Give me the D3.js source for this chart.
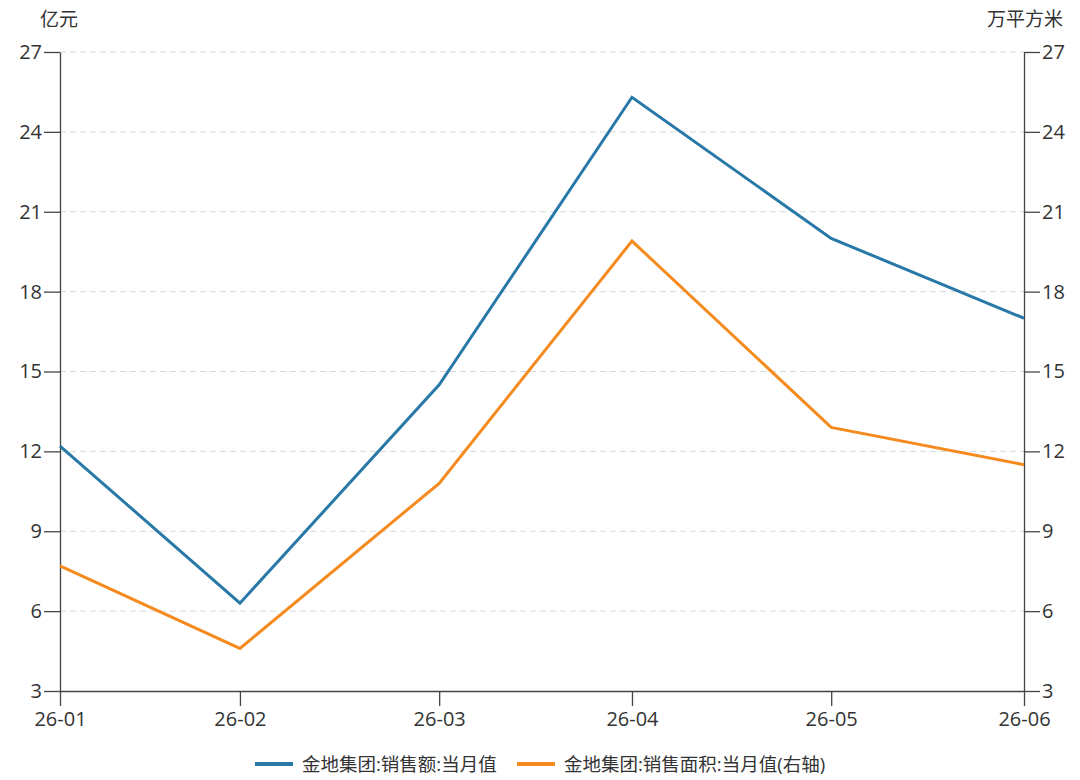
<!DOCTYPE html>
<html>
<head>
<meta charset="utf-8">
<script src="https://cdn.jsdelivr.net/npm/d3@7"></script>
<style>
  body { margin: 0; background: #fff; }
  svg text { font-family: "Open Sans", "Noto Sans CJK SC", sans-serif; fill: #333; }
  .axis path, .axis line { stroke: #444; stroke-width: 1.3; }
  .grid line { stroke: #d9d9d9; stroke-dasharray: 6,4; }
</style>
</head>
<body>
<div id="chart"></div>
<script>
// month-end dates
var months = ["2026-01-31", "2026-02-28", "2026-03-31", "2026-04-30", "2026-05-31", "2026-06-30"];
var salesAmount = [12.2, 6.3, 14.5, 25.3, 20.0, 17.0];   // 亿元
var salesArea = [7.7, 4.6, 10.8, 19.9, 12.9, 11.5];      // 万平方米
var yTicks = [3, 6, 9, 12, 15, 18, 21, 24, 27];
var seriesNames = ["金地集团:销售额:当月值", "金地集团:销售面积:当月值(右轴)"];
var colors = ["#2878a8", "#f58b1f"];

var margin = {top: 52, right: 56, bottom: 89, left: 60},
    width = 1080 - margin.left - margin.right,
    height = 780 - margin.top - margin.bottom;

var parseDate = d3.timeParse("%Y-%m-%d");
var dates = months.map(parseDate);

var x = d3.scaleTime().domain(d3.extent(dates)).range([0, width]);
var yL = d3.scaleLinear().domain([3, 27]).range([height, 0]);
var yR = d3.scaleLinear().domain([3, 27]).range([height, 0]);

var svg = d3.select("#chart").append("svg")
    .attr("width", 1080)
    .attr("height", 780);

var g = svg.append("g")
    .attr("transform", "translate(" + margin.left + "," + margin.top + ")");

// grid
g.append("g")
    .attr("class", "grid")
    .selectAll("line")
    .data(yTicks.slice(1))
    .enter().append("line")
    .attr("x1", 0)
    .attr("x2", width)
    .attr("y1", function(d) { return yL(d); })
    .attr("y2", function(d) { return yL(d); });

var xAxis = d3.axisBottom(x)
    .tickValues(dates)
    .tickSize(15)
    .tickSizeOuter(0)
    .tickPadding(6)
    .tickFormat(d3.timeFormat("%y-%m"));

var gx = g.append("g")
    .attr("class", "axis x-axis")
    .attr("transform", "translate(0," + height + ")")
    .call(xAxis);

var gyl = g.append("g")
    .attr("class", "axis")
    .call(d3.axisLeft(yL).tickValues(yTicks).tickSize(16).tickSizeOuter(0).tickPadding(2));

var gyr = g.append("g")
    .attr("class", "axis")
    .attr("transform", "translate(" + width + ",0)")
    .call(d3.axisRight(yR).tickValues(yTicks).tickSize(16).tickSizeOuter(0).tickPadding(2));

[gx, gyl, gyr].forEach(function(a) {
  a.attr("font-size", null).attr("font-family", null);
  a.selectAll("text").style("font-size", "20px").style("fill", "#333");
});

// unit labels
svg.append("text")
    .attr("x", 40).attr("y", 26)
    .style("font-size", "19px")
    .text("亿元");
svg.append("text")
    .attr("x", 1063).attr("y", 26)
    .attr("text-anchor", "end")
    .style("font-size", "19px")
    .text("万平方米");

var lineL = d3.line()
    .x(function(d, i) { return x(dates[i]); })
    .y(function(d) { return yL(d); });
var lineR = d3.line()
    .x(function(d, i) { return x(dates[i]); })
    .y(function(d) { return yR(d); });

g.append("path")
    .datum(salesArea)
    .attr("fill", "none")
    .attr("stroke", colors[1])
    .attr("stroke-width", 3)
    .attr("d", lineR);

g.append("path")
    .datum(salesAmount)
    .attr("fill", "none")
    .attr("stroke", colors[0])
    .attr("stroke-width", 3)
    .attr("d", lineL);

// legend
var legendX = [255, 517];
var legend = svg.append("g");
seriesNames.forEach(function(name, i) {
  legend.append("line")
      .attr("x1", legendX[i]).attr("x2", legendX[i] + 38)
      .attr("y1", 764).attr("y2", 764)
      .attr("stroke", colors[i])
      .attr("stroke-width", 4);
  legend.append("text")
      .attr("x", legendX[i] + 47)
      .attr("y", 771)
      .style("font-size", "18.5px")
      .text(name);
});
</script>
</body>
</html>
